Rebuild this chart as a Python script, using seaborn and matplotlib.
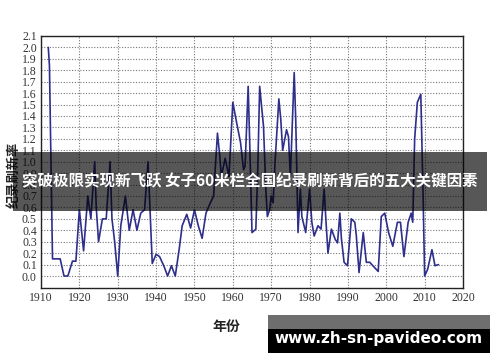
import matplotlib
matplotlib.use("Agg")
import matplotlib.pyplot as plt
import seaborn as sns
import pandas as pd
from matplotlib.patches import Rectangle

years = [1911.9, 1912.2, 1912.6, 1913.0, 1915.0, 1916.0, 1917.0, 1918.2, 1919.1, 1920.0,
         1920.5, 1921.1, 1922.2, 1923.0, 1924.0, 1924.4, 1925.0, 1926.0, 1927.0, 1928.0,
         1928.5, 1929.2, 1930.0, 1930.8, 1932.0, 1933.0, 1934.0, 1935.0, 1936.0, 1937.0,
         1937.9, 1939.0, 1940.0, 1940.9, 1942.0, 1943.0, 1944.0, 1945.0, 1946.0, 1946.8,
         1948.0, 1949.0, 1950.0, 1951.0, 1952.0, 1953.0, 1954.0, 1955.0, 1955.4, 1956.0,
         1956.6, 1957.0, 1958.0, 1959.0, 1960.0, 1961.0, 1962.0, 1962.8, 1963.2, 1964.0,
         1964.4, 1965.0, 1966.0, 1966.5, 1967.0, 1968.0, 1968.6, 1969.0, 1969.6, 1970.0,
         1970.5, 1971.0, 1972.0, 1972.5, 1973.0, 1974.0, 1974.5, 1975.0, 1976.0, 1976.4,
         1977.0, 1977.6, 1978.0, 1979.0, 1980.0, 1980.6, 1981.2, 1982.2, 1983.0, 1983.8,
         1984.3, 1984.8, 1985.7, 1986.7, 1987.3, 1987.9, 1988.3, 1989.0, 1989.9, 1990.9,
         1991.8, 1992.2, 1992.9, 1994.0, 1994.8, 1995.7, 1996.5, 1997.9, 1998.7, 1999.6,
         2000.6, 2001.7, 2002.9, 2003.7, 2004.6, 2005.7, 2006.5, 2006.9, 2007.4, 2008.1,
         2009.0, 2009.6, 2010.0, 2010.8, 2011.9, 2012.7, 2013.6]
rates = [2.00, 1.84, 1.00, 0.15, 0.15, 0.00, 0.00, 0.13, 0.13, 0.58,
         0.42, 0.22, 0.70, 0.50, 1.00, 0.60, 0.30, 0.50, 0.50, 1.00,
         0.50, 0.30, 0.00, 0.44, 0.70, 0.40, 0.58, 0.40, 0.55, 0.58,
         1.00, 0.11, 0.19, 0.17, 0.09, 0.00, 0.09, 0.00, 0.23, 0.44,
         0.54, 0.42, 0.58, 0.44, 0.33, 0.55, 0.63, 0.70, 0.93, 1.25,
         1.05, 0.87, 1.03, 0.87, 1.52, 1.34, 1.17, 0.93, 0.96, 1.66,
         1.17, 0.38, 0.41, 0.93, 1.66, 1.31, 0.76, 0.52, 0.58, 0.70,
         0.64, 0.99, 1.55, 1.37, 1.10, 1.28, 1.22, 0.87, 1.78, 1.37,
         0.38, 0.76, 0.52, 0.38, 0.76, 0.47, 0.35, 0.44, 0.41, 0.76,
         0.47, 0.20, 0.41, 0.32, 0.29, 0.55, 0.33, 0.12, 0.09, 0.50,
         0.47, 0.35, 0.03, 0.38, 0.12, 0.12, 0.09, 0.04, 0.52, 0.55,
         0.38, 0.26, 0.47, 0.47, 0.17, 0.47, 0.55, 0.47, 1.20, 1.52,
         1.59, 0.70, 0.00, 0.06, 0.23, 0.09, 0.10]

x_ticks = list(range(1910, 2021, 10))
y_ticks = [round(i * 0.1, 1) for i in range(22)]
x_label = "年份"
y_label = "纪录刷新率"
banner_title = "突破极限实现新飞跃 女子60米栏全国纪录刷新背后的五大关键因素"
watermark = "www.zh-sn-pavideo.com"

sns.set_style("white")
plt.rcParams['font.family'] = ['Liberation Serif', 'Noto Sans CJK SC', 'DejaVu Sans']

df = pd.DataFrame({"year": years, "rate": rates})

fig = plt.figure(figsize=(5.0, 3.62), dpi=100)
ax = fig.add_axes([0.082, 0.2044, 0.844, 0.6962])

sns.lineplot(data=df, x="year", y="rate", ax=ax, estimator=None, sort=False,
             color="#2e2e8c", linewidth=1.2)

ax.set_xlim(1910, 2020)
ax.set_ylim(-0.105, 2.1)
ax.set_xticks(x_ticks)
ax.set_yticks(y_ticks)
ax.set_xticklabels([str(t) for t in x_ticks], fontsize=8.5, color="#333333")
ax.set_yticklabels([f"{t:.1f}" for t in y_ticks], fontsize=8.5, color="#333333")
ax.tick_params(direction="in", length=3, width=0.8, pad=3)
ax.grid(True, linestyle=(0, (1.0, 1.5)), color="#777777", linewidth=0.8)
for s in ax.spines.values():
    s.set_color("#222222")
    s.set_linewidth(1.0)

ax.set_xlabel(x_label, fontsize=10, fontweight="bold", family=["Noto Sans CJK SC"], color="#222222")
ax.xaxis.set_label_coords(0.44, -0.125)
ax.set_ylabel(y_label, fontsize=9.5, fontweight="bold", family=["Noto Sans CJK SC"], color="#222222")
ax.yaxis.set_label_coords(-0.048, 0.45)

# banner overlay
fig.patches.append(Rectangle((0.026, 0.417), 0.948, 0.163, transform=fig.transFigure,
                             facecolor="black", alpha=0.66, edgecolor="none", zorder=10))
fig.text(0.5, 0.5, banner_title, ha="center", va="center", color="white",
         fontsize=11.2, fontweight="bold", family=["Noto Sans CJK SC", "DejaVu Sans"], zorder=11)

# watermark
fig.patches.append(Rectangle((0.536, 1 - 329 / 362), 0.444, 14 / 362, transform=fig.transFigure,
                             facecolor="#6e6e6e", edgecolor="none", zorder=10))
fig.patches.append(Rectangle((0.536, 1 - 353 / 362), 0.444, 24 / 362, transform=fig.transFigure,
                             facecolor="black", edgecolor="none", zorder=10))
fig.text(0.757, 1 - 339 / 362, watermark, ha="center", va="center", color="white",
         fontsize=11, fontweight="bold", family=["DejaVu Sans"], zorder=11)

fig.savefig("out.png", dpi=100)
